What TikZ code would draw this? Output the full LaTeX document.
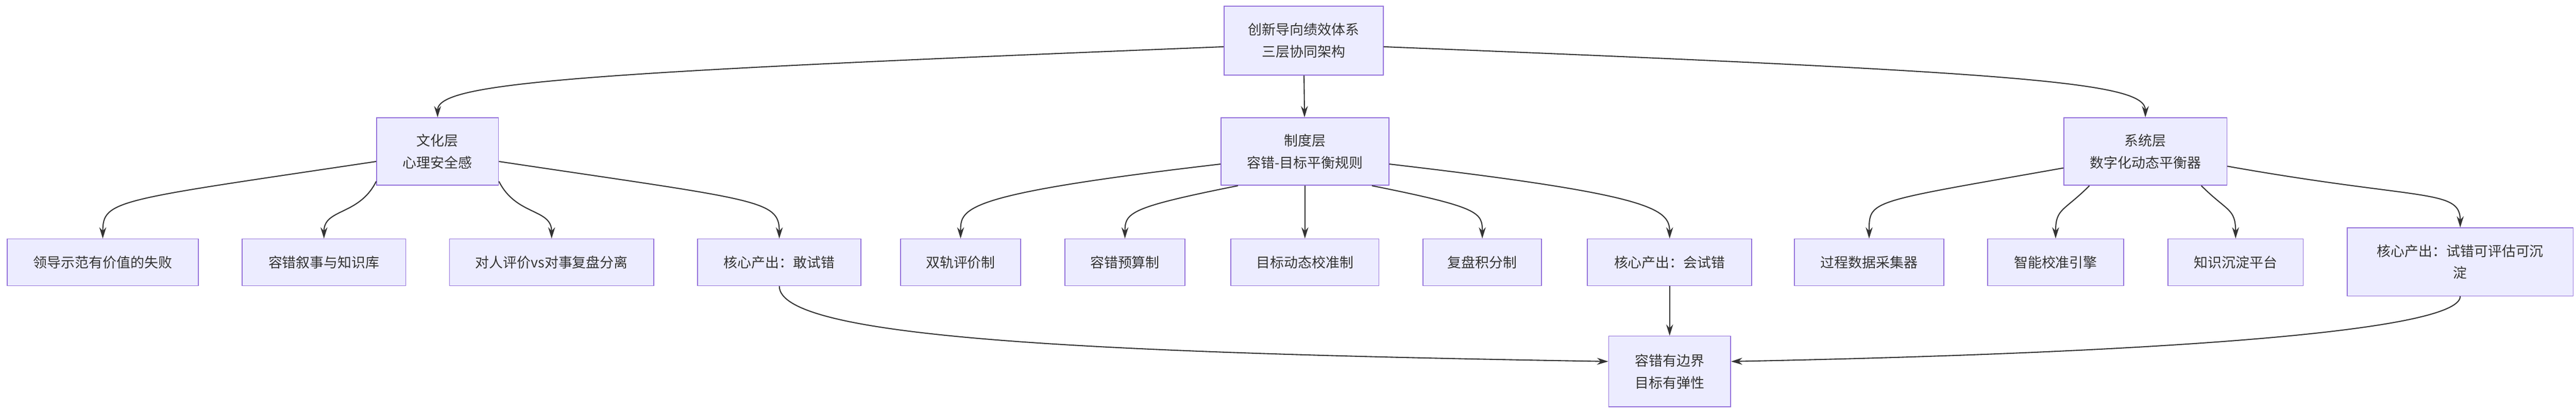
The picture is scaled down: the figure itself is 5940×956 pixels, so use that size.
\documentclass[tikz,border=0pt]{standalone}
\usepackage{fontspec}
\setmainfont{Noto Sans CJK SC}
\usetikzlibrary{arrows.meta}
\definecolor{boxfill}{HTML}{ECECFF}
\definecolor{boxline}{HTML}{9370DB}
\definecolor{edge}{HTML}{333333}
\begin{document}
\begin{tikzpicture}[x=1pt,y=1pt,
block/.style ={rectangle, draw=boxline, line width=2pt, fill=boxfill, inner sep=0pt, align=center, font=\fontsize{32}{51}\selectfont, text=black!80},
leaf/.style ={block, minimum height=108pt},
line/.style ={draw=edge, line width=2.5pt, -{Stealth[length=26pt,width=16pt]}}]
  \useasboundingbox (0,0) rectangle (5940,-956);
  % top
    \node [block, minimum width=367pt, minimum height=159pt] (top) at (3006,-94) {创新导向绩效体系\\三层协同架构};
  % layers
    \node [block, minimum width=281pt, minimum height=156pt] (culture) at (1009,-350) {文化层\\心理安全感};
    \node [block, minimum width=387pt, minimum height=156pt] (rules) at (3009,-350) {制度层\\容错-目标平衡规则};
    \node [block, minimum width=376pt, minimum height=156pt] (system) at (4947,-350) {系统层\\数字化动态平衡器};
  % culture row
    \node [leaf, minimum width=441pt] (c_lead) at (237,-606) {领导示范有价值的失败};
    \node [leaf, minimum width=377pt] (c_story) at (747,-606) {容错叙事与知识库};
    \node [leaf, minimum width=471pt] (c_split) at (1272,-606) {对人评价vs对事复盘分离};
    \node [leaf, minimum width=377pt] (c_out) at (1797,-606) {核心产出：敢试错};
  % rules row
    \node [leaf, minimum width=277pt] (r_dual) at (2215,-606) {双轨评价制};
    \node [leaf, minimum width=277pt] (r_budget) at (2594,-606) {容错预算制};
    \node [leaf, minimum width=341pt] (r_goal) at (3009,-606) {目标动态校准制};
    \node [leaf, minimum width=273pt] (r_score) at (3418,-606) {复盘积分制};
    \node [leaf, minimum width=379pt] (r_out) at (3850,-606) {核心产出：会试错};
  % system row
    \node [leaf, minimum width=345pt] (s_data) at (4310,-606) {过程数据采集器};
    \node [leaf, minimum width=313pt] (s_engine) at (4740,-606) {智能校准引擎};
    \node [leaf, minimum width=312pt] (s_know) at (5155,-606) {知识沉淀平台};
    \node [block, minimum width=521pt, minimum height=157pt] (s_out) at (5673,-605) {核心产出：试错可评估可沉\\淀};
  % result
    \node [block, minimum width=281pt, minimum height=163pt] (result) at (3850,-858) {容错有边界\\目标有弹性};
  % connecting nodes with paths
    \begin{scope}[every path/.style=line]
      \path (top.west |- 0,-108) .. controls +(-1500,-60) and +(0,80) .. (culture.north);
      \path (top) -- (rules);
      \path (top.east |- 0,-108) .. controls +(1500,-60) and +(0,80) .. (system.north);
      \path (culture.west |- 0,-373) .. controls +(-600,-90) and +(0,90) .. (c_lead.north);
      \path (culture.south west) ++(0,10) .. controls +(-40,-80) and +(0,70) .. (c_story.north);
      \path (culture.south east) ++(0,10) .. controls +(40,-80) and +(0,70) .. (c_split.north);
      \path (culture.east |- 0,-373) .. controls +(600,-90) and +(0,90) .. (c_out.north);
      \path (rules.south west) ++(0,50) .. controls +(-600,-70) and +(0,70) .. (r_dual.north);
      \path (rules.south west) ++(40,0) .. controls +(-250,-50) and +(0,60) .. (r_budget.north);
      \path (rules) -- (r_goal);
      \path (rules.south east) ++(-40,0) .. controls +(250,-50) and +(0,60) .. (r_score.north);
      \path (rules.south east) ++(0,50) .. controls +(600,-70) and +(0,70) .. (r_out.north);
      \path (system.west |- 0,-388) .. controls +(-450,-80) and +(0,90) .. (s_data.north);
      \path (system.south west) ++(60,0) .. controls +(-60,-60) and +(0,70) .. (s_engine.north);
      \path (system.south east) ++(-60,0) .. controls +(60,-60) and +(0,70) .. (s_know.north);
      \path (system.east |- 0,-384) .. controls +(450,-80) and +(0,90) .. (s_out.north);
      \path (c_out.south) .. controls +(0,-120) and +(-1200,20) .. (result.west |- 0,-835);
      \path (r_out) -- (result);
      \path (s_out.south) .. controls +(0,-80) and +(1000,20) .. (result.east |- 0,-835);
    \end{scope}
\end{tikzpicture}
\end{document}
